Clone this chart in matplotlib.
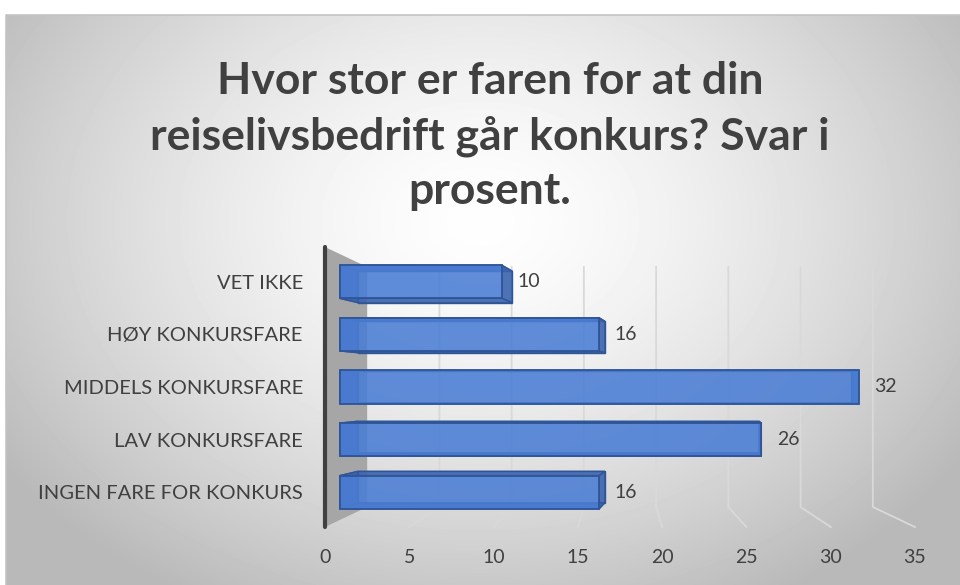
#!/usr/bin/env python3

import numpy as np
import matplotlib
matplotlib.use("Agg")
import matplotlib.pyplot as plt
from matplotlib.patches import Polygon

#################################################
### Data
#################################################

categories = ["VET IKKE", "HØY KONKURSFARE", "MIDDELS KONKURSFARE",
              "LAV KONKURSFARE", "INGEN FARE FOR KONKURS"]
values = [10, 16, 32, 26, 16]
xticks = [0, 5, 10, 15, 20, 25, 30, 35]
title = "Hvor stor er faren for at din\nreiselivsbedrift går konkurs? Svar i\nprosent."

plt.rcParams['font.family'] = ['Lato', 'DejaVu Sans']

W, H = 960, 585
text_col = '#404040'
fig = plt.figure(figsize=(W / 100, H / 100), dpi=100)

# Background with radial gradient (Excel style chart area)
bg = fig.add_axes([0, 0, 1, 1])
yy, xx = np.mgrid[15:H, 6:W]
t = np.sqrt(((xx - 480) / 560.) ** 2 + ((yy - 220) / 420.) ** 2)
shade = np.clip(254 - 66 * t ** 1.5, 185, 255) / 255.
bg.imshow(shade, cmap='gray', vmin=0, vmax=1, extent=(6, W, H, 15),
          aspect='auto', interpolation='bilinear')
bg.plot([6, 6, W], [H, 15, 15], color='#c4c4c4', lw=1.2)
bg.set_xlim(0, W)
bg.set_ylim(H, 0)
bg.axis('off')

# Main plot area (front plane of the 3D box)
x0, x1 = 325, 915
ytop, ybot = 247, 527
ax = fig.add_axes([x0 / W, 1 - ybot / H, (x1 - x0) / W, (ybot - ytop) / H])
ax.patch.set_alpha(0)
for s in ax.spines.values():
    s.set_visible(False)

n = len(categories)
ylo, yhi = -0.56, n - 1 + 0.56
ax.set_xlim(xticks[0], xticks[-1])
ax.set_ylim(yhi, ylo)

# rough perspective towards a vanishing point
vy = (n - 1) / 2
k_front, k_back, k_wall = 0.038, 0.085, 0.143


def proj(x, y, k, vx=17.5):
    return x + k * (vx - x), y + k * (vy - y)


# Back wall + floor gridlines
for v in xticks[1:]:
    xb, yt = proj(v, ylo, k_wall)
    _, yb = proj(v, yhi, k_wall)
    ax.plot([xb, xb, v], [yt, yb, yhi], color='#d9d9d9', lw=1.3,
            zorder=1, clip_on=False)

# Side wall
wx, wt = proj(0, ylo, k_wall)
_, wb = proj(0, yhi, k_wall)
ax.add_patch(Polygon([(0, ylo), (wx, wt), (wx, wb), (0, yhi)], closed=True,
                     fc='#a6a6a6', ec='none', zorder=2, clip_on=False))
ax.plot([0, 0], [ylo, yhi], color='#404040', lw=3, solid_capstyle='round',
        zorder=3, clip_on=False)

# 3D bars
h = 0.63
edge = '#2f5597'
bvx = 23.0
for i, v in enumerate(values):
    corners = [(0, i - h / 2), (v, i - h / 2), (v, i + h / 2), (0, i + h / 2)]
    f = [proj(x, y, k_front, bvx) for x, y in corners]
    b = [proj(x, y, k_back, bvx) for x, y in corners]
    ax.add_patch(Polygon(b, closed=True, fc='none', ec=edge, lw=1, zorder=4))
    for j in range(4):
        quad = [f[j], f[(j + 1) % 4], b[(j + 1) % 4], b[j]]
        ax.add_patch(Polygon(quad, closed=True, fc='#3a63ae', ec=edge,
                             lw=1, alpha=0.9, zorder=5))
    ax.add_patch(Polygon(f, closed=True, fc='#4a7dd4', ec='none',
                         alpha=0.88, zorder=6))
    ax.add_patch(Polygon(f, closed=True, fc='none', ec=edge, lw=1.3, zorder=7))
    fx, fy = proj(v, i, k_front, bvx)
    ax.annotate(str(v), (fx, fy), xytext=(11, 0), textcoords='offset points',
                va='center', ha='left', fontsize=14, color=text_col, zorder=8)

# Axes labels
ax.set_xticks(xticks)
ax.set_xticklabels([str(v) for v in xticks])
ax.tick_params(axis='x', length=0, pad=16, labelsize=14, labelcolor=text_col)
ax.set_yticks([proj(0, i, k_front)[1] for i in range(n)])
ax.set_yticklabels(categories)
ax.tick_params(axis='y', length=0, pad=16, labelsize=14.5, labelcolor=text_col)

fig.text(490 / W, 1 - 136 / H, title, ha='center', va='center',
         fontsize=32, fontweight='bold', color=text_col, linespacing=1.42)

fig.savefig("out.png", dpi=100)
